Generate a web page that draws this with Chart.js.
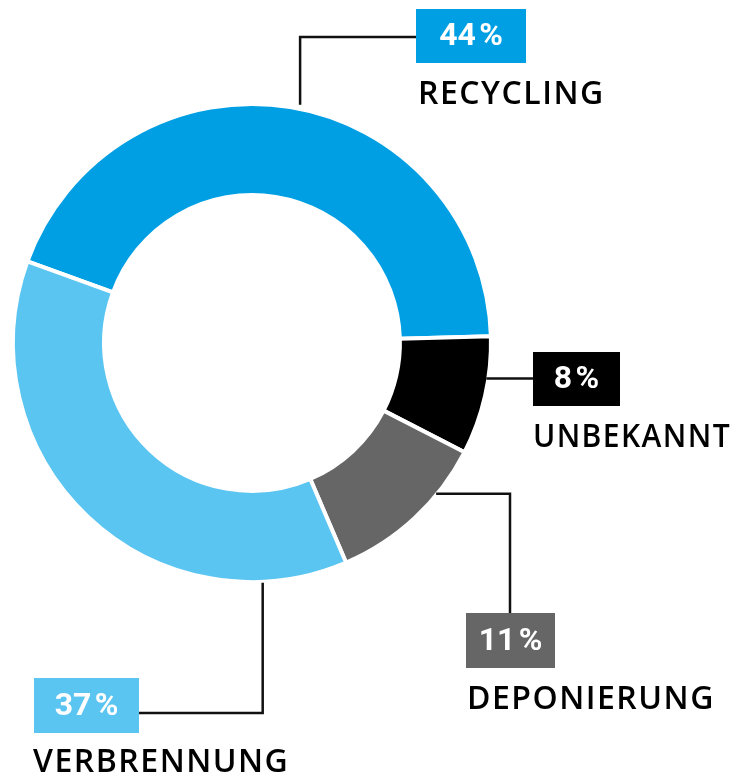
<!DOCTYPE html>
<html>
<head>
<meta charset="utf-8">
<script src="https://cdn.jsdelivr.net/npm/chart.js@4"></script>
<style>
  body { margin: 0; background: #fff; }
  canvas { display: block; }
</style>
</head>
<body>
<canvas id="myChart" width="737" height="777"></canvas>
<script>
// data
const labels = ['RECYCLING', 'UNBEKANNT', 'DEPONIERUNG', 'VERBRENNUNG'];
const shares = [44, 8, 11, 37];
const colors = ['#009FE3', '#000000', '#666666', '#5BC5F2'];

// where the callout boxes sit (layout only)
const callouts = [
  { frac: 0.514, gap: 4,  route: 'vh', attach: [416, 37],  box: [416, 9, 110, 54],   text: [418, 104] },
  { frac: 0.354, gap: -2, route: 'h',  attach: [533, 379], box: [533, 352, 87, 54],  text: [533, 447] },
  { frac: 0.306, gap: -1, route: 'hv', attach: [510, 613], box: [466, 613, 89, 55],  text: [467, 709] },
  { frac: 0.155, gap: 1,  route: 'vh', attach: [139, 713], box: [34, 678, 105, 55],  text: [33, 772] }
];

const calloutPlugin = {
  id: 'callouts',
  afterDraw(chart) {
    const ctx = chart.ctx;
    const arcs = chart.getDatasetMeta(0).data;
    ctx.save();
    arcs.forEach((arc, i) => {
      const c = callouts[i];
      const a = arc.startAngle + c.frac * (arc.endAngle - arc.startAngle);
      const r = arc.outerRadius + c.gap;
      const ax = arc.x + r * Math.cos(a);
      const ay = arc.y + r * Math.sin(a);
      const [tx, ty] = c.attach;

      ctx.strokeStyle = '#111';
      ctx.lineWidth = 2.5;
      ctx.beginPath();
      ctx.moveTo(ax, ay);
      if (c.route == 'vh') {
        ctx.lineTo(ax, ty);
        ctx.lineTo(tx, ty);
      } else if (c.route == 'hv') {
        ctx.lineTo(tx, ay);
        ctx.lineTo(tx, ty);
      } else {
        ctx.lineTo(tx, ay);
      }
      ctx.stroke();

      const [bx, by, bw, bh] = c.box;
      ctx.fillStyle = colors[i];
      ctx.fillRect(bx, by, bw, bh);

      ctx.fillStyle = '#fff';
      ctx.font = '700 32px Roboto';
      ctx.letterSpacing = '0px';
      ctx.textAlign = 'center';
      ctx.textBaseline = 'middle';
      ctx.fillText(shares[i] + '\u200A%', bx + bw / 2, by + bh / 2 + 1);

      // label under the box, kept inside the canvas
      ctx.fillStyle = '#000';
      ctx.font = '600 32px "Open Sans"';
      ctx.letterSpacing = '1.5px';
      ctx.textAlign = 'left';
      ctx.textBaseline = 'alphabetic';
      ctx.fillText(labels[i], c.text[0], c.text[1], chart.width - c.text[0] - 6);
    });
    ctx.restore();
  }
};

const config = {
  type: 'doughnut',
  data: {
    labels: labels,
    datasets: [{
      data: shares,
      backgroundColor: colors,
      borderColor: '#fff',
      borderWidth: 4
    }]
  },
  options: {
    responsive: false,
    animation: false,
    devicePixelRatio: 1,
    cutout: '61.9%',
    rotation: -70,
    layout: { padding: { left: 11, right: 244, top: 102, bottom: 193 } },
    events: [],
    plugins: {
      legend: { display: false },
      tooltip: { enabled: false }
    }
  },
  plugins: [calloutPlugin]
};

const myChart = new Chart(document.getElementById('myChart'), config);
</script>
</body>
</html>
